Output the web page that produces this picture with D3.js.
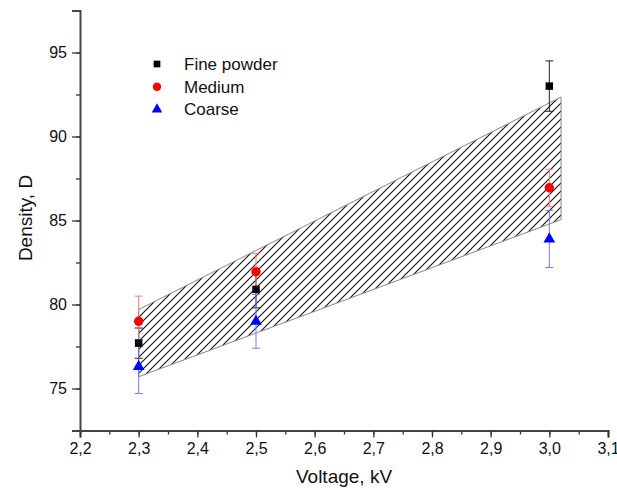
<!DOCTYPE html>
<html>
<head>
<meta charset="utf-8">
<script src="https://cdn.jsdelivr.net/npm/d3@7"></script>
<style>
  body { margin: 0; background: #fff; }
  svg text { font-family: "Liberation Sans", Arial, sans-serif; fill: #111; }
</style>
</head>
<body>
<div id="chart"></div>
<script>
var voltages = [2.3, 2.5, 3.0];
var seriesNames = ["Fine powder", "Medium", "Coarse"];
var fineVals = [77.7, 80.9, 93.0];
var fineErr = [0.9, 1.1, 1.5];
var mediumVals = [79.0, 81.95, 86.95];
var mediumErr = [1.5, 1.1, 1.1];
var coarseVals = [76.3, 79.0, 83.9];
var coarseErr = [1.6, 1.6, 1.7];
var bandX = [2.3, 3.02];
var bandUpper = [79.7, 92.35];
var bandLower = [75.7, 85.05];
var xTicks = [2.2, 2.3, 2.4, 2.5, 2.6, 2.7, 2.8, 2.9, 3.0, 3.1];
var yTicks = [75, 80, 85, 90, 95];

var width = 617, height = 490;
var svg = d3.select("#chart").append("svg")
    .attr("width", width)
    .attr("height", height);

var x = d3.scaleLinear().domain([2.2, 3.1]).range([80, 608]);
var y = d3.scaleLinear().domain([72.5, 97.5]).range([430.5, 10.5]);

// hatch pattern for the band
var defs = svg.append("defs");
defs.append("pattern")
    .attr("id", "hatch")
    .attr("patternUnits", "userSpaceOnUse")
    .attr("width", 8)
    .attr("height", 8)
  .append("path")
    .attr("d", "M-2,2 L2,-2 M0,8 L8,0 M6,10 L10,6")
    .attr("stroke", "#111")
    .attr("stroke-width", 1.1);

var band = [
    [bandX[0], bandLower[0]],
    [bandX[0], bandUpper[0]],
    [bandX[1], bandUpper[1]],
    [bandX[1], bandLower[1]]
];
svg.append("path")
    .attr("d", d3.line().x(function(d) { return x(d[0]); }).y(function(d) { return y(d[1]); })(band) + "Z")
    .attr("fill", "url(#hatch)")
    .attr("stroke", "#888")
    .attr("stroke-width", 1);

// axes
var xAxis = svg.append("g").attr("transform", "translate(0,430.5)");
xAxis.call(d3.axisBottom(x).tickValues(d3.range(2.2, 3.1001, 0.05)).tickSize(4).tickFormat(""));
xAxis.call(function(g) {
    g.selectAll(".tick line").attr("stroke", "#333").attr("stroke-width", 1.3);
});
var xMajor = svg.append("g").attr("transform", "translate(0,430.5)")
    .call(d3.axisBottom(x).tickValues(xTicks).tickSize(7).tickPadding(5)
        .tickFormat(function(d) { return d3.format(".1f")(d).replace(".", ","); }));
xMajor.selectAll(".tick line").attr("stroke", "#333").attr("stroke-width", 1.3);
xMajor.selectAll(".tick text").attr("font-size", 16).attr("fill", "#111");
xMajor.select(".domain").attr("stroke", "#444").attr("stroke-width", 2);
xAxis.select(".domain").remove();

var yAxis = svg.append("g").attr("transform", "translate(80,0)");
yAxis.call(d3.axisLeft(y).tickValues(d3.range(72.5, 97.501, 2.5)).tickSize(4).tickFormat(""));
yAxis.selectAll(".tick line").attr("stroke", "#333").attr("stroke-width", 1.3);
yAxis.select(".domain").remove();
var yMajor = svg.append("g").attr("transform", "translate(80,0)")
    .call(d3.axisLeft(y).tickValues(yTicks).tickSize(8).tickPadding(5));
yMajor.selectAll(".tick line").attr("stroke", "#333").attr("stroke-width", 1.3);
yMajor.selectAll(".tick text").attr("font-size", 16).attr("fill", "#111");
yMajor.select(".domain").attr("stroke", "#444").attr("stroke-width", 2);

svg.append("text")
    .attr("x", 344).attr("y", 483)
    .attr("text-anchor", "middle")
    .attr("font-size", 19)
    .text("Voltage, kV");
svg.append("text")
    .attr("transform", "translate(32,218) rotate(-90)")
    .attr("text-anchor", "middle")
    .attr("font-size", 19)
    .text("Density, D");

// error bars and markers
var series = [
    { name: seriesNames[0], vals: fineVals, err: fineErr, color: "#000", errColor: "#222", shape: d3.symbolSquare, size: 56 },
    { name: seriesNames[1], vals: mediumVals, err: mediumErr, color: "#f00", errColor: "#f77", shape: d3.symbolCircle, size: 70 },
    { name: seriesNames[2], vals: coarseVals, err: coarseErr, color: "#00f", errColor: "#77f", shape: d3.symbolTriangle, size: 60 }
];

series.forEach(function(s) {
    var g = svg.append("g");
    voltages.forEach(function(v, i) {
        var cx = x(v), lo = y(s.vals[i] - s.err[i]), hi = y(s.vals[i] + s.err[i]);
        g.append("line").attr("x1", cx).attr("x2", cx).attr("y1", lo).attr("y2", hi)
            .attr("stroke", s.errColor).attr("stroke-width", 1);
        [lo, hi].forEach(function(yy) {
            g.append("line").attr("x1", cx - 4).attr("x2", cx + 4).attr("y1", yy).attr("y2", yy)
                .attr("stroke", s.errColor).attr("stroke-width", 1);
        });
    });
});
series.forEach(function(s) {
    svg.append("g").selectAll("path")
        .data(voltages)
        .enter().append("path")
        .attr("transform", function(d, i) { return "translate(" + x(d) + "," + y(s.vals[i]) + ")"; })
        .attr("d", d3.symbol().type(s.shape).size(s.size))
        .attr("fill", s.color);
});

// legend
var legend = svg.append("g").attr("transform", "translate(157,64)");
series.forEach(function(s, i) {
    var row = legend.append("g").attr("transform", "translate(0," + (i * 22.7) + ")");
    row.append("path")
        .attr("d", d3.symbol().type(s.shape).size(s.size * 0.8))
        .attr("fill", s.color);
    row.append("text")
        .attr("x", 27).attr("y", 6)
        .attr("font-size", 17)
        .text(s.name);
});
</script>
</body>
</html>
